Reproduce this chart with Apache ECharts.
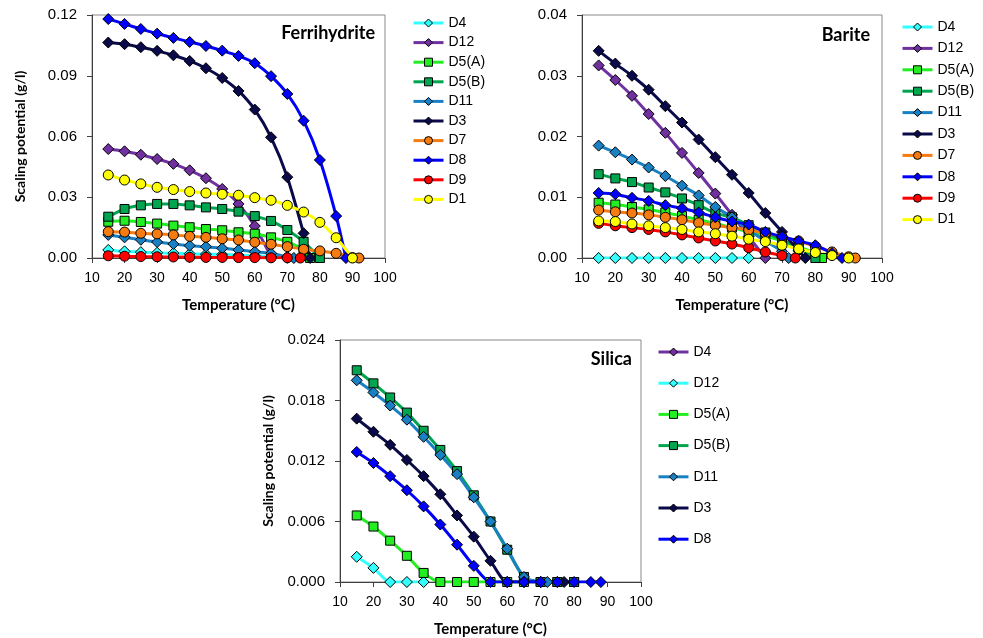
<!DOCTYPE html>
<html>
<head>
<meta charset="utf-8">
<script src="https://cdn.jsdelivr.net/npm/echarts@6/dist/echarts.min.js"></script>
<style>
  html, body { margin: 0; padding: 0; background: #fff; }
  #chart { width: 983px; height: 638px; }
</style>
</head>
<body>
<div id="chart"></div>
<script>
// ---- Ferrihydrite: [temperature °C, scaling potential g/l] ----
const ferriD4  = [[15,0.0040],[20,0.0033],[25,0.0029],[30,0.0026],[35,0.0024],[40,0.0021],[45,0.0019],[50,0.0017],[55,0.0014],[60,0.0011],[65,0.0006],[70,0.0001]];
const ferriD12 = [[15,0.0538],[20,0.0527],[25,0.0510],[30,0.0489],[35,0.0465],[40,0.0433],[45,0.0394],[50,0.0341],[55,0.0267],[60,0.0158],[65,0.0005]];
const ferriD5A = [[15,0.0179],[20,0.0184],[25,0.0178],[30,0.0170],[35,0.0160],[40,0.0152],[45,0.0143],[50,0.0137],[55,0.0127],[60,0.0120],[65,0.0102],[70,0.0080],[75,0.0040],[77,0]];
const ferriD5B = [[15,0.0204],[20,0.0242],[25,0.0260],[30,0.0267],[35,0.0267],[40,0.0260],[45,0.0250],[50,0.0242],[55,0.0229],[60,0.0207],[65,0.0183],[70,0.0138],[75,0.0080],[80,0]];
const ferriD11 = [[15,0.0114],[20,0.0102],[25,0.0090],[30,0.0079],[35,0.0069],[40,0.0061],[45,0.0056],[50,0.0048],[55,0.0040],[60,0.0031],[65,0.0023],[70,0.0006],[72,0]];
const ferriD3  = [[15,0.1064],[20,0.1056],[25,0.1041],[30,0.1023],[35,0.1001],[40,0.0973],[45,0.0937],[50,0.0889],[55,0.0825],[60,0.0733],[65,0.0596],[70,0.0399],[75,0.0122],[77,0]];
const ferriD7  = [[15,0.0130],[20,0.0128],[25,0.0122],[30,0.0119],[35,0.0114],[40,0.0107],[45,0.0102],[50,0.0095],[55,0.0089],[60,0.0078],[65,0.0068],[70,0.0056],[75,0.0043],[80,0.0035],[85,0.0023],[90,0.0002],[92,0]];
const ferriD8  = [[15,0.1180],[20,0.1156],[25,0.1131],[30,0.1108],[35,0.1087],[40,0.1067],[45,0.1047],[50,0.1024],[55,0.0998],[60,0.0962],[65,0.0898],[70,0.0810],[75,0.0678],[80,0.0484],[85,0.0207],[88,0]];
const ferriD9  = [[15,0.0011],[20,0.0009],[25,0.0007],[30,0.0006],[35,0.0005],[40,0.0004],[45,0.0003],[50,0.0003],[55,0.0002],[60,0.0002],[65,0.0001],[70,0.0001],[74,0]];
const ferriD1  = [[15,0.0410],[20,0.0385],[25,0.0366],[30,0.0349],[35,0.0338],[40,0.0328],[45,0.0321],[50,0.0315],[55,0.0310],[60,0.0298],[65,0.0285],[70,0.0260],[75,0.0227],[80,0.0176],[85,0.0100],[90,0]];

// ---- Barite ----
const bariteD4  = [[15,0],[20,0],[25,0],[30,0],[35,0],[40,0],[45,0],[50,0],[55,0],[60,0]];
const bariteD12 = [[15,0.0317],[20,0.0293],[25,0.0267],[30,0.0237],[35,0.0206],[40,0.0173],[45,0.0140],[50,0.0106],[55,0.0071],[60,0.0035],[65,0]];
const bariteD5A = [[15,0.0091],[20,0.0088],[25,0.0084],[30,0.0080],[35,0.0075],[40,0.0069],[45,0.0063],[50,0.0057],[55,0.0050],[60,0.0043],[65,0.0036],[70,0.0028],[75,0.0018],[80,0.0008],[82,0]];
const bariteD5B = [[15,0.0138],[20,0.0131],[25,0.0125],[30,0.0116],[35,0.0108],[40,0.0098],[45,0.0087],[50,0.0074],[55,0.0067],[60,0.0054],[65,0.0042],[70,0.0030],[75,0.0017],[80,0]];
const bariteD11 = [[15,0.0185],[20,0.0174],[25,0.0162],[30,0.0149],[35,0.0135],[40,0.0119],[45,0.0103],[50,0.0084],[55,0.0067],[60,0.0046],[65,0.0028],[70,0.0011],[72,0]];
const bariteD3  = [[15,0.0341],[20,0.0320],[25,0.0300],[30,0.0277],[35,0.0250],[40,0.0223],[45,0.0195],[50,0.0166],[55,0.0137],[60,0.0107],[65,0.0074],[70,0.0043],[75,0.0012],[77,0]];
const bariteD7  = [[15,0.0079],[20,0.0076],[25,0.0074],[30,0.0071],[35,0.0067],[40,0.0063],[45,0.0058],[50,0.0054],[55,0.0050],[60,0.0046],[65,0.0041],[70,0.0035],[75,0.0028],[80,0.0019],[85,0.0010],[90,0.0002],[92,0]];
const bariteD8  = [[15,0.0107],[20,0.0105],[25,0.0099],[30,0.0094],[35,0.0087],[40,0.0082],[45,0.0075],[50,0.0067],[55,0.0060],[60,0.0055],[65,0.0043],[70,0.0035],[75,0.0028],[80,0.0021],[85,0.0008],[88,0]];
const bariteD9  = [[15,0.0057],[20,0.0053],[25,0.0050],[30,0.0047],[35,0.0043],[40,0.0038],[45,0.0033],[50,0.0028],[55,0.0023],[60,0.0017],[65,0.0010],[70,0.0004],[74,0]];
const bariteD1  = [[15,0.0061],[20,0.0060],[25,0.0056],[30,0.0053],[35,0.0050],[40,0.0047],[45,0.0043],[50,0.0040],[55,0.0036],[60,0.0031],[65,0.0027],[70,0.0021],[75,0.0015],[80,0.0009],[85,0.0004],[90,0]];

// ---- Silica ----
const silicaD4  = [];
const silicaD12 = [[15,0.0025],[20,0.0014],[25,0],[30,0],[35,0]];
const silicaD5A = [[15,0.0066],[20,0.0055],[25,0.0041],[30,0.0026],[35,0.0009],[40,0],[45,0],[50,0],[55,0],[60,0],[65,0],[70,0],[75,0],[80,0]];
const silicaD5B = [[15,0.0210],[20,0.0197],[25,0.0183],[30,0.0168],[35,0.0150],[40,0.0131],[45,0.0110],[50,0.0086],[55,0.0060],[60,0.0032],[65,0.0005],[70,0],[75,0],[80,0]];
const silicaD11 = [[15,0.0200],[20,0.0188],[25,0.0175],[30,0.0161],[35,0.0144],[40,0.0126],[45,0.0107],[50,0.0084],[55,0.0060],[60,0.0033],[65,0.0005],[70,0],[72,0]];
const silicaD3  = [[15,0.0162],[20,0.0149],[25,0.0136],[30,0.0121],[35,0.0105],[40,0.0087],[45,0.0066],[50,0.0045],[55,0.0021],[60,0],[65,0],[70,0],[75,0],[77,0]];
const silicaD8  = [[15,0.0129],[20,0.0118],[25,0.0105],[30,0.0091],[35,0.0075],[40,0.0057],[45,0.0037],[50,0.0016],[55,0],[60,0],[65,0],[70,0],[75,0],[80,0],[85,0],[88,0]];

// Axis ranges and tick labels
const xTicks = [10, 20, 30, 40, 50, 60, 70, 80, 90, 100];
const ferriTicks  = [0.00, 0.03, 0.06, 0.09, 0.12];
const bariteTicks = [0.00, 0.01, 0.02, 0.03, 0.04];
const silicaTicks = [0.000, 0.006, 0.012, 0.018, 0.024];

const panelTitles = ['Ferrihydrite', 'Barite', 'Silica'];
const mainNames = ['D4', 'D12', 'D5(A)', 'D5(B)', 'D11', 'D3', 'D7', 'D8', 'D9', 'D1'];
const silicaNames = ['D4', 'D12', 'D5(A)', 'D5(B)', 'D11', 'D3', 'D8'];

// Series look
const DIAMOND = 'path://M5,0 L10,5 L5,10 L0,5 Z';
const look = {
  'D4':    { color: '#33ffff', symbol: DIAMOND },
  'D12':   { color: '#7030a0', symbol: DIAMOND },
  'D5(A)': { color: '#22ee22', symbol: 'rect' },
  'D5(B)': { color: '#00a550', symbol: 'rect' },
  'D11':   { color: '#1a80c4', symbol: DIAMOND },
  'D3':    { color: '#0a0a4a', symbol: DIAMOND },
  'D7':    { color: '#f57c10', symbol: 'circle' },
  'D8':    { color: '#0000ff', symbol: DIAMOND },
  'D9':    { color: '#ff0000', symbol: 'circle' },
  'D1':    { color: '#ffff00', symbol: 'circle' }
};
// Silica panel swaps the D4 / D12 colours
const silicaLook = Object.assign({}, look, {
  'D4':  { color: '#7030a0', symbol: DIAMOND },
  'D12': { color: '#33ffff', symbol: DIAMOND }
});

function symSize(sym) {
  if (sym === 'circle') return 10;
  if (sym === 'rect') return 9;
  return 11;
}

function makeSeries(name, data, idx, lk) {
  const s = lk[name];
  return {
    name: name,
    type: 'line',
    xAxisIndex: idx,
    yAxisIndex: idx,
    data: data,
    smooth: 0.25,
    symbol: s.symbol,
    symbolSize: symSize(s.symbol),
    showAllSymbol: true,
    lineStyle: { color: s.color, width: 3 },
    itemStyle: { color: s.color, borderColor: '#000', borderWidth: 1 },
    emphasis: { disabled: true }
  };
}

const ferriData  = [ferriD4, ferriD12, ferriD5A, ferriD5B, ferriD11, ferriD3, ferriD7, ferriD8, ferriD9, ferriD1];
const bariteData = [bariteD4, bariteD12, bariteD5A, bariteD5B, bariteD11, bariteD3, bariteD7, bariteD8, bariteD9, bariteD1];
const silicaData = [silicaD4, silicaD12, silicaD5A, silicaD5B, silicaD11, silicaD3, silicaD8];

const series = [];
mainNames.forEach((n, i) => series.push(makeSeries(n, ferriData[i], 0, look)));
mainNames.forEach((n, i) => series.push(makeSeries(n, bariteData[i], 1, look)));
silicaNames.forEach((n, i) => series.push(makeSeries(n, silicaData[i], 2, silicaLook)));

const AXIS = '#404040';
const FONT = '"Liberation Sans", Arial, sans-serif';
const BOLD = 'Lato, "Open Sans", sans-serif';

function xAxis(idx) {
  return {
    gridIndex: idx, type: 'value',
    min: xTicks[0], max: xTicks[xTicks.length - 1], interval: xTicks[1] - xTicks[0],
    name: 'Temperature (°C)', nameLocation: 'middle', nameGap: 40,
    nameTextStyle: { fontFamily: BOLD, fontWeight: 'bold', fontSize: 15, color: '#000' },
    axisLine: { show: true, onZero: false, lineStyle: { color: AXIS, width: 1 } },
    axisTick: { show: true, inside: false, length: 5, lineStyle: { color: AXIS } },
    axisLabel: { fontFamily: FONT, fontSize: 14, color: '#000', margin: 13 },
    splitLine: { show: false }
  };
}
function yAxis(idx, ticks, digits, withName) {
  return {
    gridIndex: idx, type: 'value',
    min: ticks[0], max: ticks[ticks.length - 1], interval: ticks[1] - ticks[0],
    name: withName ? 'Scaling potential (g/l)' : '',
    nameLocation: 'middle', nameRotate: 90, nameGap: 65,
    nameTextStyle: { fontFamily: BOLD, fontWeight: 'bold', fontSize: 14, color: '#000' },
    axisLine: { show: true, lineStyle: { color: AXIS, width: 1 } },
    axisTick: { show: true, inside: false, length: 5, lineStyle: { color: AXIS } },
    axisLabel: { fontFamily: FONT, fontSize: 15, color: '#000', margin: 15,
                 formatter: v => v.toFixed(digits) },
    splitLine: { show: false }
  };
}

function legend(names, lk, idx, left, top, gap) {
  return {
    orient: 'vertical', left: left, top: top, padding: 0,
    itemWidth: 30, itemHeight: 10, itemGap: gap,
    textStyle: { fontFamily: FONT, fontSize: 14, color: '#000', lineHeight: 14 },
    selectedMode: false,
    data: names.map(n => ({
      name: n,
      itemStyle: { color: lk[n].color, borderColor: '#000', borderWidth: 1 },
      lineStyle: { color: lk[n].color, width: 3 }
    }))
  };
}

const chart = echarts.init(document.getElementById('chart'), null, { renderer: 'canvas' });
chart.setOption({
  animation: false,
  backgroundColor: '#fff',
  grid: [
    { left: 92, top: 15, width: 293, height: 243, show: true, borderColor: '#898989', borderWidth: 1, backgroundColor: 'transparent' },
    { left: 582, top: 15, width: 300, height: 243, show: true, borderColor: '#898989', borderWidth: 1, backgroundColor: 'transparent' },
    { left: 340, top: 340, width: 301, height: 243, show: true, borderColor: '#898989', borderWidth: 1, backgroundColor: 'transparent' }
  ],
  xAxis: [xAxis(0), xAxis(1), xAxis(2)],
  yAxis: [yAxis(0, ferriTicks, 2, true), yAxis(1, bariteTicks, 2, false), yAxis(2, silicaTicks, 3, true)],
  legend: [
    legend(mainNames, look, 0, 412, 16, 5.6),
    legend(mainNames, look, 1, 901, 20, 7.4),
    legend(silicaNames, silicaLook, 2, 657, 345, 17.2)
  ],
  graphic: [
    { type: 'text', right: 983 - 375, top: 24, style: { text: panelTitles[0], font: 'bold 18px ' + BOLD, fill: '#000' } },
    { type: 'text', right: 983 - 870, top: 26, style: { text: panelTitles[1], font: 'bold 18px ' + BOLD, fill: '#000' } },
    { type: 'text', right: 983 - 632, top: 350, style: { text: panelTitles[2], font: 'bold 18px ' + BOLD, fill: '#000' } }
  ],
  series: series
});
</script>
</body>
</html>
